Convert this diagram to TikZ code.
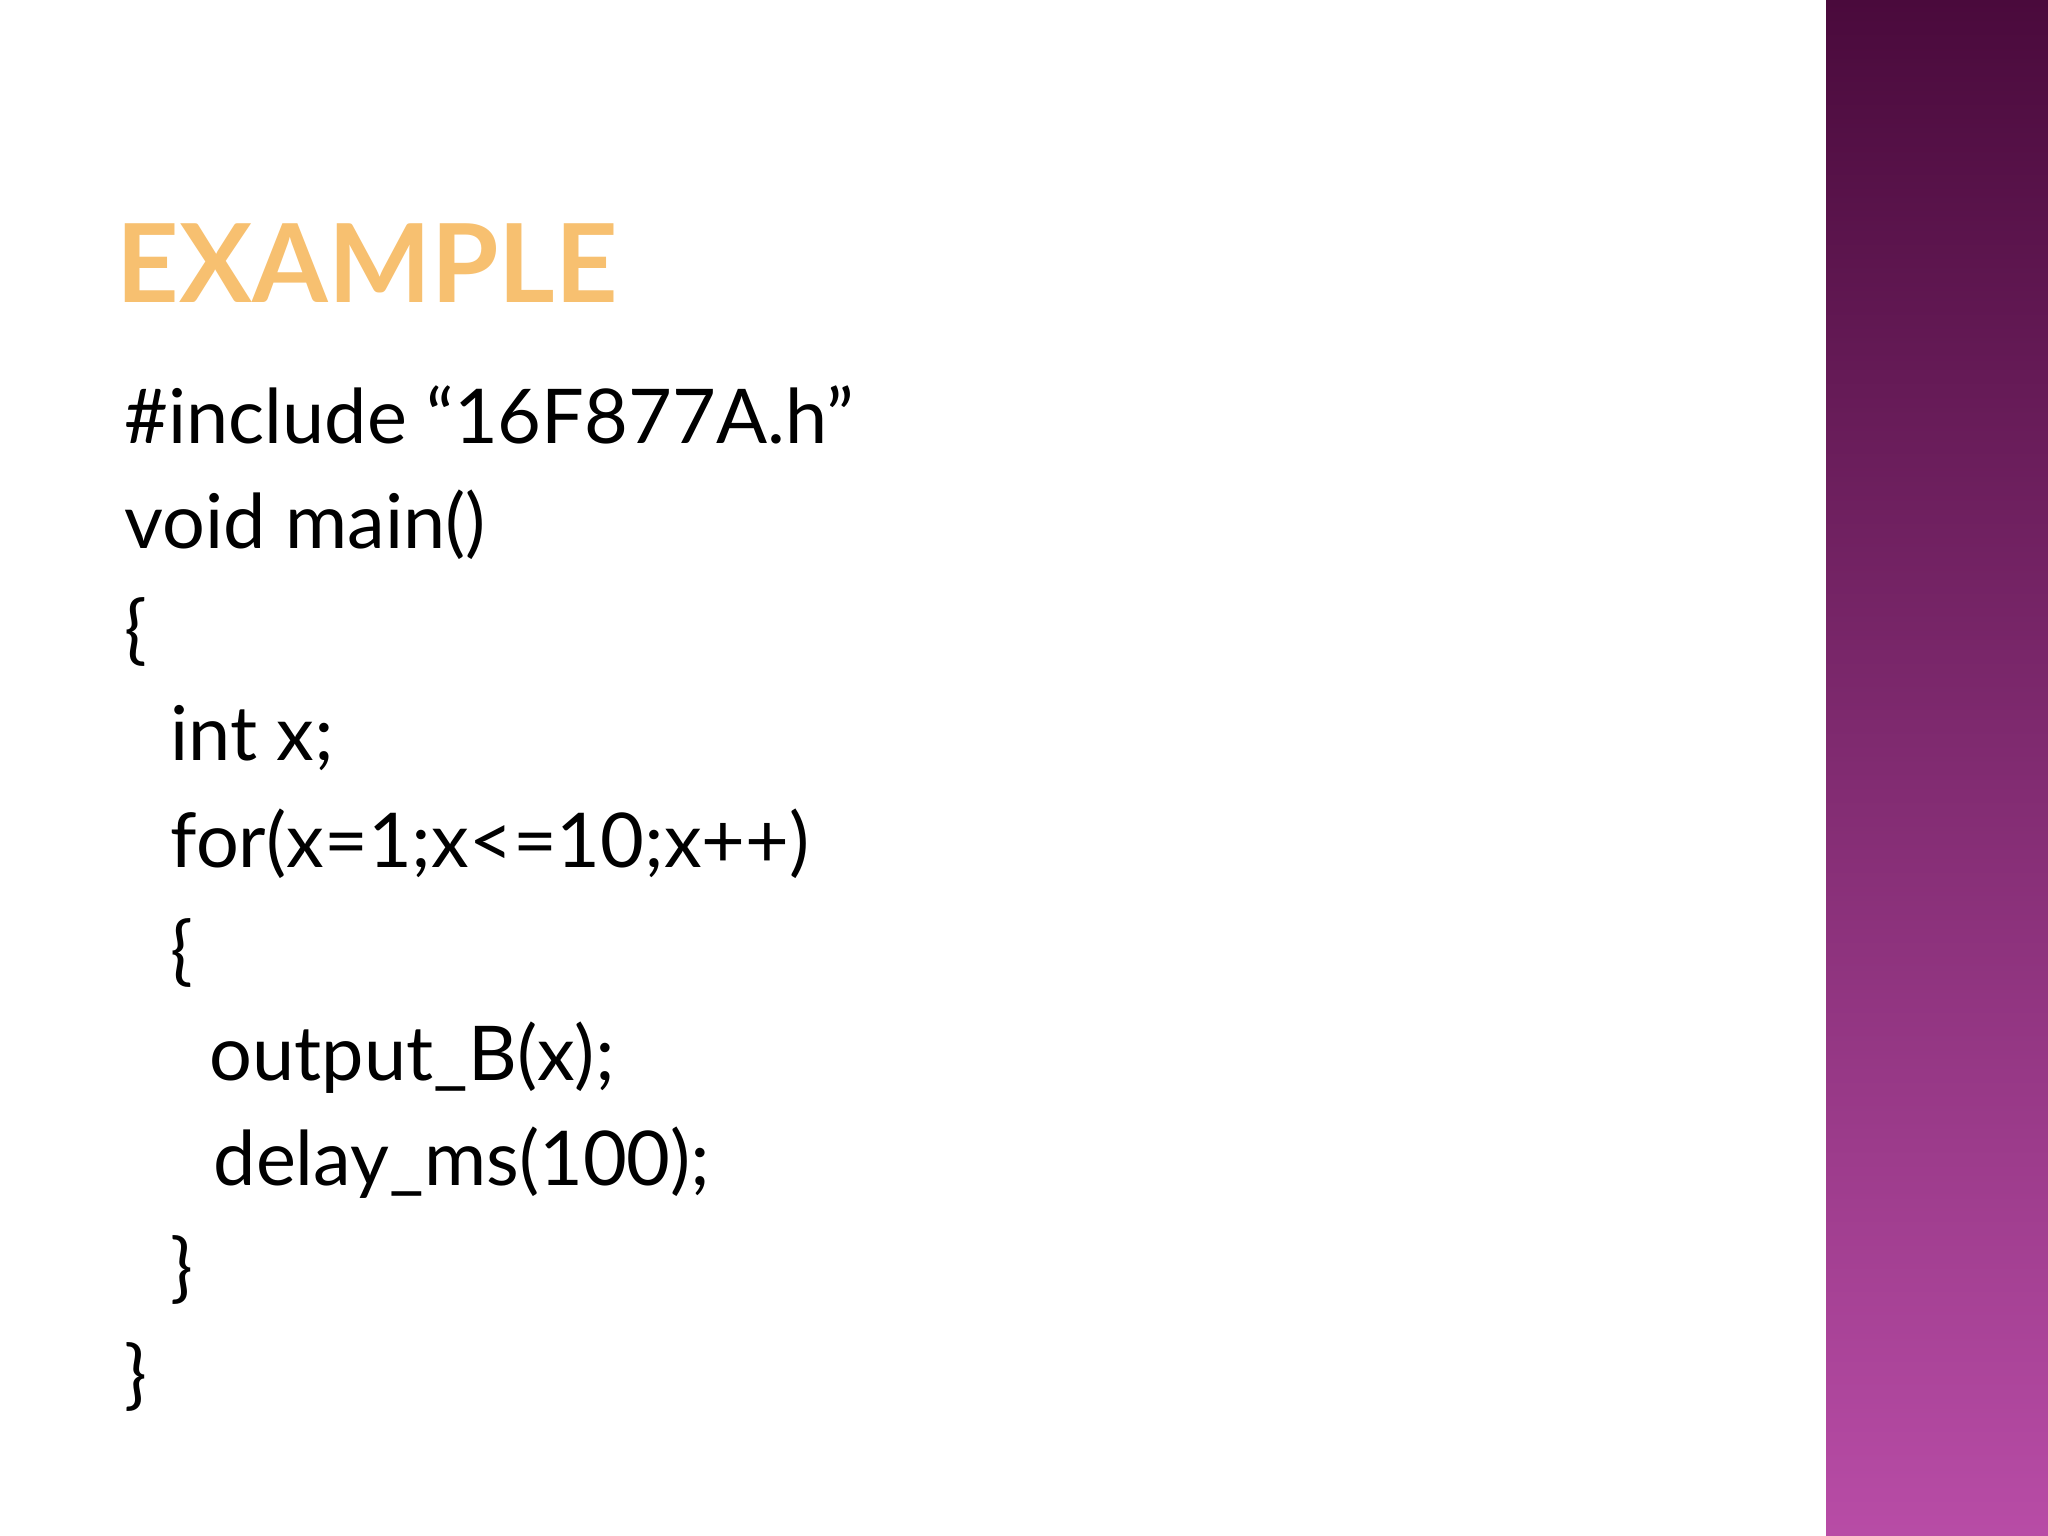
\documentclass[tikz,border=0pt]{standalone}
\usepackage{fontspec}
\setmainfont{Lato}
\usetikzlibrary{shadings}
\definecolor{bartop}{HTML}{4A0A3C}
\definecolor{barbot}{HTML}{B84CA6}
\definecolor{titlefill}{HTML}{F7C070}
\begin{document}
\begin{tikzpicture}[x=1cm,y=-1cm,
  code/.style={anchor=base west,inner sep=0pt,font=\fontsize{21.5}{26}\selectfont,text=black}]
\useasboundingbox (0,0) rectangle (20.48,15.36);
\fill[white] (0,0) rectangle (20.48,15.36);
\shade[top color=bartop,bottom color=barbot] (18.26,0) rectangle (20.48,15.36);
\node[anchor=base west,inner sep=0pt,font=\fontsize{31}{36}\selectfont\bfseries,text=titlefill] (title) at (1.16,3.03) {EXAMPLE};
\node[code] (l1) at (1.24,4.44) {\#include “16F877A.h”};
\node[code] (l2) at (1.24,5.49) {void main()};
\node[code] (l3) at (1.24,6.55) {\{};
\node[code] (l4) at (1.70,7.61) {int x;};
\node[code] (l5) at (1.70,8.67) {for(x=1;x<=10;x++)};
\node[code] (l6) at (1.70,9.76) {\{};
\node[code] (l7) at (2.09,10.80) {output\_B(x);};
\node[code] (l8) at (2.13,11.85) {delay\_ms(100);};
\node[code] (l9) at (1.70,12.93) {\}};
\node[code] (l10) at (1.24,14.00) {\}};
\end{tikzpicture}
\end{document}
